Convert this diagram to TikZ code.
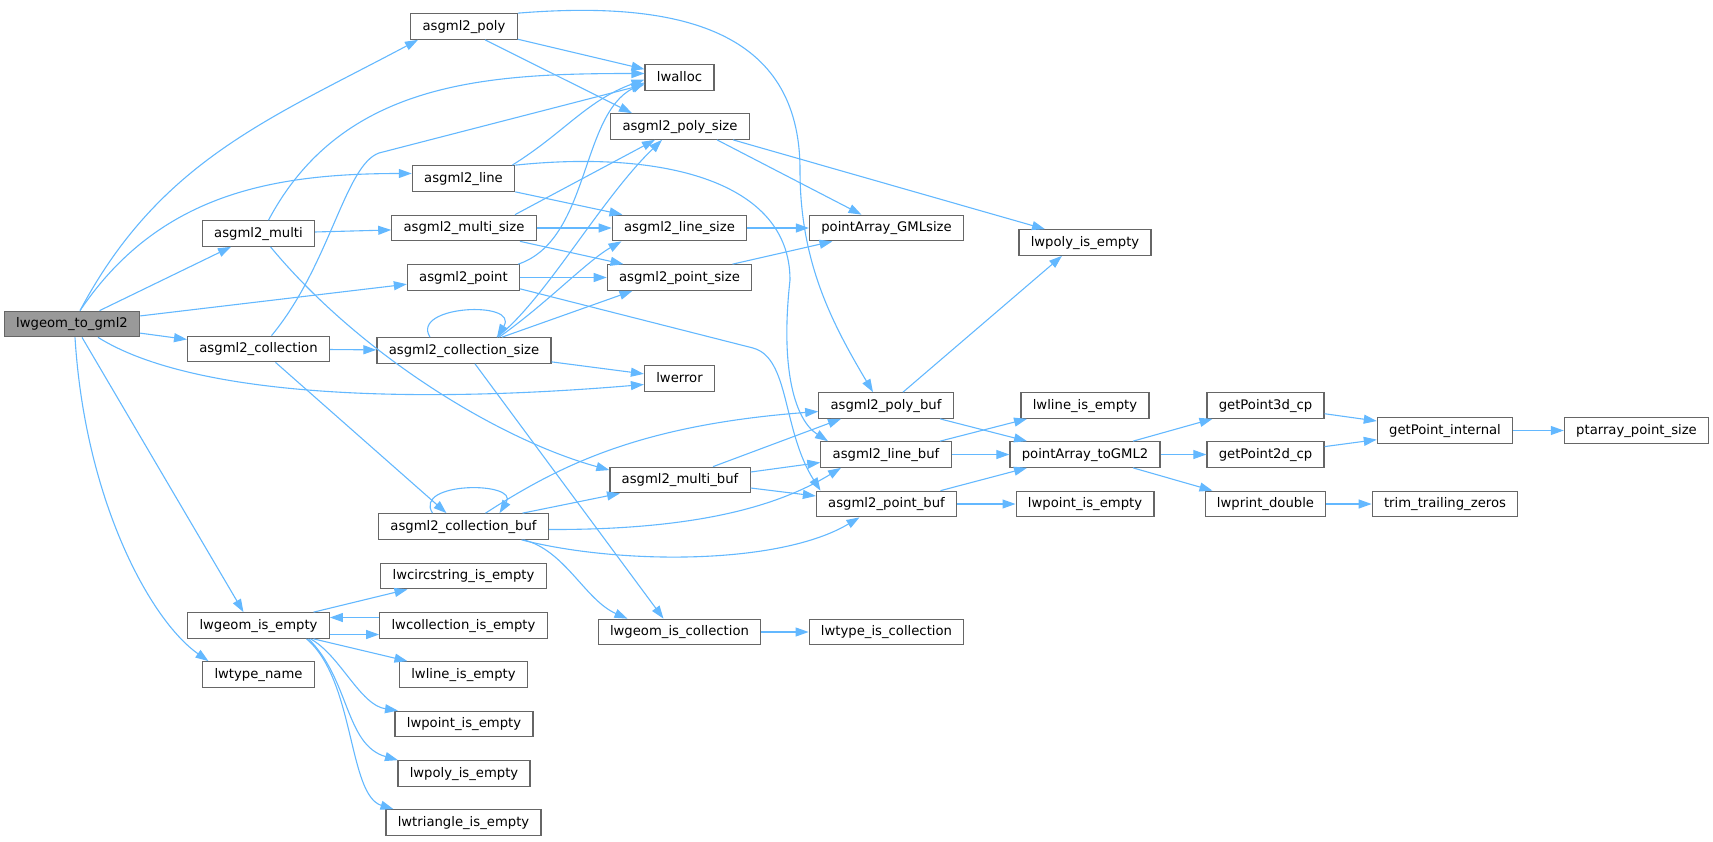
\documentclass[tikz,border=0pt]{standalone}
\usepackage{fontspec}
\setmainfont{DejaVu Sans}
\usetikzlibrary{arrows.meta}
\definecolor{edgeblue}{HTML}{63B8FF}
\definecolor{boxgray}{HTML}{666666}
\definecolor{rootgray}{HTML}{999999}

\begin{document}
\begin{tikzpicture}[x=1pt, y=1pt,
	fn/.style={shape=rectangle, draw=boxgray, line width=1.2pt, fill=white, minimum height=25.5pt, inner xsep=11.8pt, inner ysep=0pt, text height=10pt, text depth=3pt, font=\fontsize{13.2}{15}\selectfont},
	call/.style={draw=edgeblue, line width=1.1pt, -{Triangle[length=13pt, width=9pt]}}]
	\useasboundingbox (0,0) rectangle (1713,-841);
	% Functions:
	\node[fn, fill=rootgray] (root) at (72,-324) {lwgeom\_to\_gml2};
	\node[fn] (gmulti) at (258.5,-233.5) {asgml2\_multi};
	\node[fn] (gcoll) at (258.5,-349) {asgml2\_collection};
	\node[fn] (isempty) at (258.5,-625.5) {lwgeom\_is\_empty};
	\node[fn] (typename) at (258.5,-674.5) {lwtype\_name};
	\node[fn] (gpoly) at (464,-26.5) {asgml2\_poly};
	\node[fn] (gline) at (463.5,-178.5) {asgml2\_line};
	\node[fn] (gmultisize) at (464,-228) {asgml2\_multi\_size};
	\node[fn] (gpoint) at (463.5,-277.5) {asgml2\_point};
	\node[fn] (gcollsize) at (464,-350.5) {asgml2\_collection\_size};
	\node[fn] (gcollbuf) at (463.5,-526.5) {asgml2\_collection\_buf};
	\node[fn] (circempty) at (463.5,-576) {lwcircstring\_is\_empty};
	\node[fn] (collempty) at (463.5,-625.5) {lwcollection\_is\_empty};
	\node[fn] (lineempty) at (463.5,-674.5) {lwline\_is\_empty};
	\node[fn] (pointempty) at (464,-724) {lwpoint\_is\_empty};
	\node[fn] (polyempty) at (464,-773.5) {lwpoly\_is\_empty};
	\node[fn] (triempty) at (463.5,-822.5) {lwtriangle\_is\_empty};
	\node[fn] (alloc) at (679.5,-77.5) {lwalloc};
	\node[fn] (gpolysize) at (680,-126.5) {asgml2\_poly\_size};
	\node[fn] (glinesize) at (679.5,-228) {asgml2\_line\_size};
	\node[fn] (gpointsize) at (679.5,-277.5) {asgml2\_point\_size};
	\node[fn] (err) at (679.5,-378.5) {lwerror};
	\node[fn] (gmultibuf) at (680,-480) {asgml2\_multi\_buf};
	\node[fn] (iscoll) at (679.5,-632) {lwgeom\_is\_collection};
	\node[fn] (gmlsize) at (886.5,-228) {pointArray\_GMLsize};
	\node[fn] (gpolybuf) at (886,-405.5) {asgml2\_poly\_buf};
	\node[fn] (glinebuf) at (886,-454.5) {asgml2\_line\_buf};
	\node[fn] (gpointbuf) at (886.5,-504) {asgml2\_point\_buf};
	\node[fn] (typecoll) at (886.5,-632) {lwtype\_is\_collection};
	\node[fn] (polyempty2) at (1085,-242.5) {lwpoly\_is\_empty};
	\node[fn] (lineempty2) at (1085,-405.5) {lwline\_is\_empty};
	\node[fn] (togml) at (1085,-454.5) {pointArray\_toGML2};
	\node[fn] (pointempty2) at (1085,-504) {lwpoint\_is\_empty};
	\node[fn] (p3d) at (1265.5,-405.5) {getPoint3d\_cp};
	\node[fn] (p2d) at (1265.5,-454.5) {getPoint2d\_cp};
	\node[fn] (printd) at (1265.5,-504) {lwprint\_double};
	\node[fn] (pinternal) at (1445,-430.5) {getPoint\_internal};
	\node[fn] (trimz) at (1445,-504) {trim\_trailing\_zeros};
	\node[fn] (ptsize) at (1636.5,-430.5) {ptarray\_point\_size};
	% Calls:
	\draw[call] ([xshift=8]root.north) to[out=62, in=-152] ([xshift=-46]gpoly.south);
	\draw[call] ([xshift=8]root.north) to[out=56, in=180] ([yshift=5]gline.west);
	\draw[call] (root) -- (gmulti);
	\draw[call] (root) -- (gpoint);
	\draw[call] (root) -- (gcoll);
	\draw[call] ([xshift=26]root.south) .. controls (190,-395) and (400,-405) .. ([yshift=-6]err.west);
	\draw[call] ([xshift=10]root.south) -- ([xshift=-15]isempty.north);
	\draw[call] ([xshift=3]root.south) .. controls (85,-500) and (150,-620) .. ([xshift=-50]typename.north);
	\draw[call] (gpoly) -- (alloc);
	\draw[call] ([xshift=21]gpoly.south) -- ([xshift=-48]gpolysize.north);
	\draw[call] (gpoly.north east) .. controls (680,0) and (800,-30) .. (800,-170) .. controls (800,-260) and (830,-320) .. ([xshift=-13]gpolybuf.north);
	\draw[call] ([xshift=10]gmulti.north) to[out=62, in=180] ([yshift=4]alloc.west);
	\draw[call] (gmulti) -- (gmultisize);
	\draw[call] ([xshift=12]gmulti.south) .. controls (360,-355) and (500,-440) .. (gmultibuf.172);
	\draw[call] ([xshift=13]gcoll.north) .. controls (330,-265) and (345,-165) .. (379,-153) -- ([yshift=-7]alloc.west);
	\draw[call] (gcoll) -- (gcollsize);
	\draw[call] ([xshift=17]gcoll.south) -- ([xshift=-17]gcollbuf.north);
	\draw[call] ([xshift=-3]gline.north east) to[out=32, in=200] ([yshift=-2]alloc.west);
	\draw[call] (gline.south east) -- ([xshift=-57]glinesize.north);
	\draw[call] (gline.north east) .. controls (660,-150) and (790,-180) .. (790,-280) .. controls (780,-370) and (795,-420) .. ([xshift=-58]glinebuf.north);
	\draw[call] ([xshift=-2]gpoint.north east) .. controls (590,-240) and (580,-115) .. ([yshift=-5]alloc.west);
	\draw[call] (gpoint) -- (gpointsize);
	\draw[call] ([yshift=2]gpoint.south east) -- (753,-348) .. controls (790,-358) and (782,-430) .. ([xshift=-66]gpointbuf.north);
	\draw[call] ([xshift=51]gmultisize.north) -- ([xshift=-25]gpolysize.south);
	\draw[call] (gmultisize) -- (glinesize);
	\draw[call] ([xshift=56]gmultisize.south) -- ([xshift=-56]gpointsize.north);
	\draw[call] ([xshift=-34]gcollsize.north) .. controls +(-20,32) and +(23,37) .. ([xshift=33]gcollsize.north);
	\draw[call] ([xshift=33]gcollsize.north) .. controls (545,-300) and (600,-200) .. ([xshift=-18]gpolysize.south);
	\draw[call] ([xshift=35]gcollsize.north) .. controls (545,-305) and (587,-261) .. ([xshift=-58]glinesize.south);
	\draw[call] ([xshift=38]gcollsize.north) -- ([xshift=-47]gpointsize.south);
	\draw[call] (gcollsize) -- (err);
	\draw[call] ([xshift=11]gcollsize.south) -- ([xshift=-16]iscoll.north);
	\draw[call] ([xshift=-31]gcollbuf.north) .. controls +(-20,32) and +(20,32) .. ([xshift=36]gcollbuf.north);
	\draw[call] ([xshift=22]gcollbuf.north) .. controls (560,-465) and (640,-425) .. ([yshift=-6]gpolybuf.west);
	\draw[call] ([xshift=59]gcollbuf.north) -- ([xshift=-60]gmultibuf.south);
	\draw[call] ([yshift=-3]gcollbuf.east) .. controls (700,-530) and (780,-505) .. ([xshift=-45]glinebuf.south);
	\draw[call] ([xshift=58]gcollbuf.south) .. controls (620,-565) and (780,-565) .. ([xshift=-27]gpointbuf.south);
	\draw[call] ([xshift=60]gcollbuf.south) .. controls (565,-550) and (585,-600) .. ([xshift=-52]iscoll.north);
	\draw[call] ([xshift=33]gmultibuf.north) -- ([xshift=-45]gpolybuf.south);
	\draw[call] ([yshift=8]gmultibuf.east) -- ([yshift=-8]glinebuf.west);
	\draw[call] ([yshift=-8]gmultibuf.east) -- ([yshift=8]gpointbuf.west);
	\draw[call] ([xshift=37]gpolysize.south) -- ([xshift=-25]gmlsize.north);
	\draw[call] ([xshift=53]gpolysize.south) -- ([xshift=-40]polyempty2.north);
	\draw[call] (glinesize) -- (gmlsize);
	\draw[call] ([xshift=53]gpointsize.north) -- ([xshift=-54]gmlsize.south);
	\draw[call] ([xshift=17]gpolybuf.north) -- ([xshift=-23]polyempty2.south);
	\draw[call] ([xshift=54]gpolybuf.south) -- ([xshift=-58]togml.north);
	\draw[call] ([xshift=54]glinebuf.north) -- ([xshift=-58]lineempty2.south);
	\draw[call] (glinebuf) -- (togml);
	\draw[call] ([xshift=54]gpointbuf.north) -- ([xshift=-58]togml.south);
	\draw[call] (gpointbuf) -- (pointempty2);
	\draw[call] ([xshift=48]togml.north) -- ([xshift=-53]p3d.south);
	\draw[call] (togml) -- (p2d);
	\draw[call] ([xshift=48]togml.south) -- ([xshift=-53]printd.north);
	\draw[call] (p3d) -- (pinternal);
	\draw[call] (p2d) -- (pinternal);
	\draw[call] (pinternal) -- (ptsize);
	\draw[call] (printd) -- (trimz);
	\draw[call] (iscoll) -- (typecoll);
	\draw[call] ([xshift=55]isempty.north) -- ([xshift=-56]circempty.south);
	\draw[call] ([yshift=8]collempty.west) -- ([yshift=8]isempty.east);
	\draw[call] ([yshift=-9]isempty.east) -- ([yshift=-9]collempty.west);
	\draw[call] ([xshift=55]isempty.south) -- ([xshift=-56]lineempty.north);
	\draw[call] ([xshift=52]isempty.south) .. controls (340,-655) and (360,-705) .. ([xshift=-66]pointempty.north);
	\draw[call] ([xshift=50]isempty.south) .. controls (350,-680) and (345,-745) .. ([xshift=-66]polyempty.north);
	\draw[call] ([xshift=48]isempty.south) .. controls (355,-680) and (348,-795) .. ([xshift=-70]triempty.north);
\end{tikzpicture}
\end{document}
